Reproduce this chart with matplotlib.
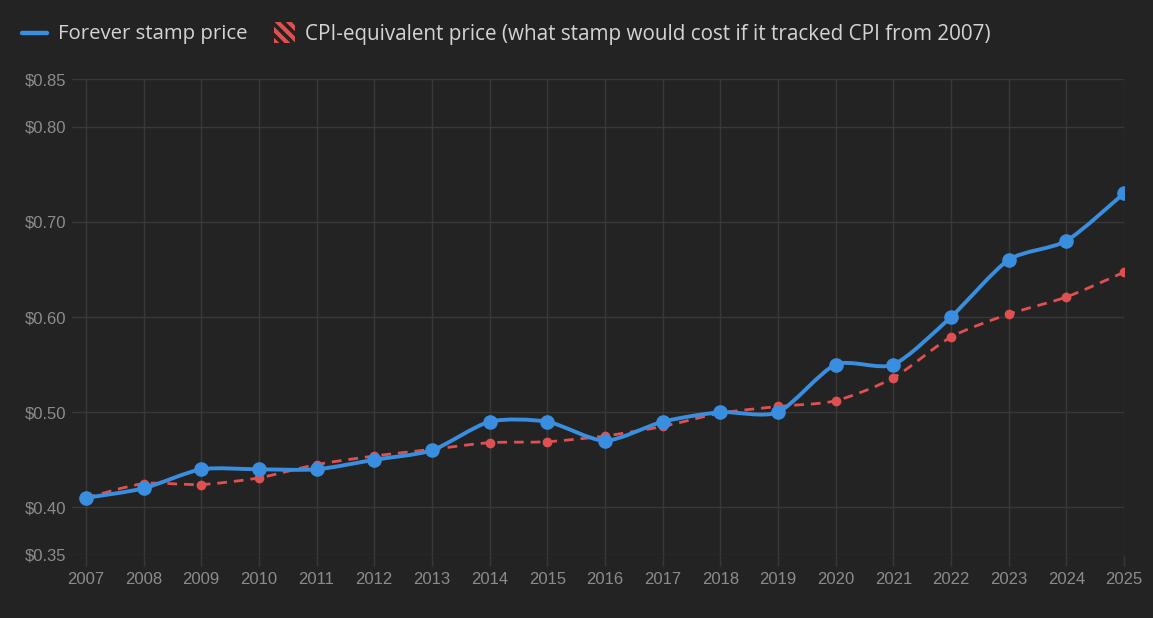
import matplotlib
matplotlib.use("Agg")
import matplotlib.pyplot as plt
import numpy as np
from matplotlib.lines import Line2D
from matplotlib.patches import PathPatch, Rectangle
from matplotlib.path import Path

years = [2007, 2008, 2009, 2010, 2011, 2012, 2013, 2014, 2015, 2016,
         2017, 2018, 2019, 2020, 2021, 2022, 2023, 2024, 2025]
stamp_price = [0.41, 0.42, 0.44, 0.44, 0.44, 0.45, 0.46, 0.49, 0.49, 0.47,
               0.49, 0.50, 0.50, 0.55, 0.55, 0.60, 0.66, 0.68, 0.73]
cpi_price = [0.41, 0.425, 0.424, 0.431, 0.445, 0.454, 0.461, 0.468, 0.469, 0.475,
             0.485, 0.499, 0.506, 0.512, 0.536, 0.579, 0.603, 0.621, 0.647]
y_ticks = [0.35, 0.40, 0.50, 0.60, 0.70, 0.80, 0.85]
series_labels = ["Forever stamp price",
                 "CPI-equivalent price (what stamp would cost if it tracked CPI from 2007)"]

BG = "#232323"
GRID = "#383838"
TICK = "#8c8c8c"
LEGEND_TXT = "#d4d4d4"
BLUE = "#3a8ee0"
RED = "#e05050"
W, H = 1153, 618

plt.rcParams["hatch.linewidth"] = 3.0


def smooth_path(xs, ys, tension=0.25):
    # cardinal-spline bezier segments through the data points
    x = np.asarray(xs, float)
    y = np.asarray(ys, float)
    n = len(x)
    mx = np.zeros(n)
    my = np.zeros(n)
    for i in range(n):
        a, b = max(i - 1, 0), min(i + 1, n - 1)
        mx[i] = (x[b] - x[a]) * tension / 2
        my[i] = (y[b] - y[a]) * tension / 2
    verts = [(x[0], y[0])]
    codes = [Path.MOVETO]
    for i in range(n - 1):
        verts += [(x[i] + mx[i], y[i] + my[i]),
                  (x[i + 1] - mx[i + 1], y[i + 1] - my[i + 1]),
                  (x[i + 1], y[i + 1])]
        codes += [Path.CURVE4] * 3
    return Path(verts, codes)


def fx(px):
    return px / W


def fy(py):
    return 1 - py / H


fig = plt.figure(figsize=(W / 100, H / 100), dpi=100, facecolor=BG)
ax = fig.add_axes([fx(72), fy(555), (1124 - 72) / W, (555 - 79) / H])
ax.set_facecolor(BG)

ax.add_patch(PathPatch(smooth_path(years, cpi_price), fill=False, edgecolor=RED,
                       lw=2.0, linestyle=(0, (3.5, 2.5)), zorder=3))
ax.plot(years, cpi_price, "o", color=RED, ms=6, zorder=4)
ax.add_patch(PathPatch(smooth_path(years, stamp_price), fill=False, edgecolor=BLUE,
                       lw=2.8, zorder=5, capstyle="round", joinstyle="round"))
ax.plot(years, stamp_price, "o", color=BLUE, ms=9.5, zorder=6)

ax.set_xlim(2006.76, 2025)
ax.set_ylim(0.35, 0.85)
ax.set_xticks(years)
ax.set_yticks(y_ticks)
ax.set_yticklabels([f"${v:.2f}" for v in y_ticks])
ax.grid(True, color=GRID, lw=1.0)
ax.set_axisbelow(True)
for s in ax.spines.values():
    s.set_visible(False)
ax.tick_params(axis="x", colors=GRID, labelcolor=TICK, length=8, width=1.0, pad=4)
ax.tick_params(axis="y", colors=GRID, labelcolor=TICK, length=0, pad=4)
for lab in ax.get_xticklabels() + ax.get_yticklabels():
    lab.set_fontfamily("Liberation Sans")
    lab.set_fontsize(12)

# legend drawn by hand so the icons match the original
fig.add_artist(Line2D([fx(22), fx(47)], [fy(32.5), fy(32.5)], color=BLUE, lw=3.2,
                      solid_capstyle="round"))
fig.text(fx(58), fy(32), series_labels[0], color=LEGEND_TXT, fontsize=14.7,
         family="Open Sans", va="center_baseline", ha="left")
fig.add_artist(Rectangle((fx(274), fy(43)), fx(21), 21 / H, facecolor="none",
                         edgecolor=RED, hatch="\\\\\\", lw=0))
fig.text(fx(305), fy(32), series_labels[1], color=LEGEND_TXT, fontsize=14.9,
         family="Open Sans", va="center_baseline", ha="left")

fig.savefig("out.png", dpi=100, facecolor=BG)
